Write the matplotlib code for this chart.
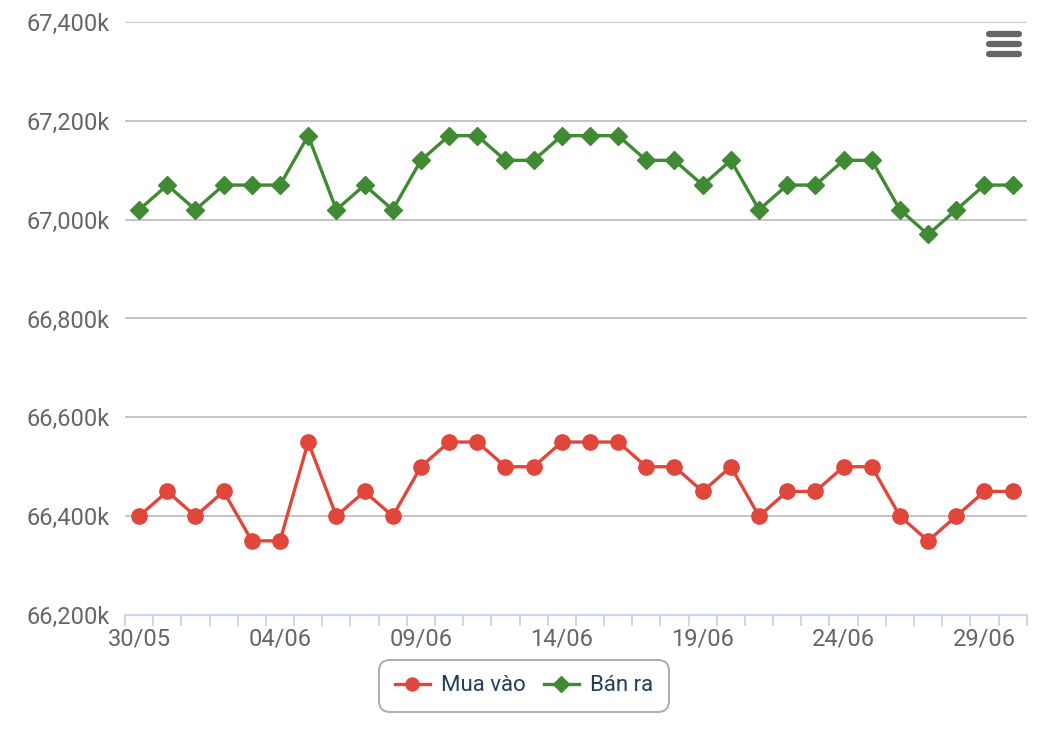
import matplotlib.pyplot as plt
from matplotlib.lines import Line2D
from matplotlib.ticker import FuncFormatter

# data (thousand units)
dates = ["30/05", "31/05", "01/06", "02/06", "03/06", "04/06", "05/06", "06/06",
         "07/06", "08/06", "09/06", "10/06", "11/06", "12/06", "13/06", "14/06",
         "15/06", "16/06", "17/06", "18/06", "19/06", "20/06", "21/06", "22/06",
         "23/06", "24/06", "25/06", "26/06", "27/06", "28/06", "29/06", "30/06"]
mua_vao = [66400, 66450, 66400, 66450, 66350, 66350, 66550, 66400,
           66450, 66400, 66500, 66550, 66550, 66500, 66500, 66550,
           66550, 66550, 66500, 66500, 66450, 66500, 66400, 66450,
           66450, 66500, 66500, 66400, 66350, 66400, 66450, 66450]
ban_ra = [67020, 67070, 67020, 67070, 67070, 67070, 67170, 67020,
          67070, 67020, 67120, 67170, 67170, 67120, 67120, 67170,
          67170, 67170, 67120, 67120, 67070, 67120, 67020, 67070,
          67070, 67120, 67120, 67020, 66970, 67020, 67070, 67070]
yticks = [66200, 66400, 66600, 66800, 67000, 67200, 67400]

plt.rcParams['font.family'] = ['Roboto', 'DejaVu Sans']

fig = plt.figure(figsize=(10.48, 7.54), dpi=100)
ax = fig.add_axes([0.1193, 0.1844, 0.8604, 0.7864])

x = list(range(len(dates)))
ax.plot(x, mua_vao, color='#e0473a', lw=2.4, marker='o', markersize=11,
        label='Mua vào', zorder=3)
ax.plot(x, ban_ra, color='#3f8a32', lw=2.4, marker='D', markersize=9,
        label='Bán ra', zorder=3)

ax.set_ylim(66200, 67400)
ax.set_yticks(yticks)
ax.yaxis.set_major_formatter(FuncFormatter(lambda v, p: f"{v:,.0f}k"))
ax.grid(axis='y', color='#c4c4c4', lw=1.4)
ax.set_axisbelow(True)

ax.set_xlim(-0.5, len(dates) - 0.5)
ax.set_xticks(x[::5])
ax.set_xticklabels(dates[::5])
ax.set_xticks([i - 0.5 for i in range(len(dates) + 1)], minor=True)
ax.tick_params(axis='x', which='major', length=0, pad=9, labelsize=17, colors='#666666')
ax.tick_params(axis='x', which='minor', length=8, width=1.4, color='#ccd6eb')
ax.tick_params(axis='y', length=0, pad=11, labelsize=17, colors='#666666')

for s in ['left', 'right', 'top']:
    ax.spines[s].set_visible(False)
ax.spines['bottom'].set_color('#ccd6eb')
ax.spines['bottom'].set_linewidth(1.6)

leg = fig.legend(loc='center', bbox_to_anchor=(0.5, 0.0902), ncol=2, fontsize=16,
                 frameon=True, fancybox=True, edgecolor='#999999', handlelength=1.6,
                 columnspacing=0.8, handletextpad=0.5, borderpad=0.7, markerscale=0.85)
leg.get_frame().set_linewidth(1.4)
leg.get_frame().set_boxstyle('round', pad=0, rounding_size=0.5)
for t in leg.get_texts():
    t.set_color('#253c5a')

# menu icon
for yy in [34, 44, 54]:
    fig.add_artist(Line2D([989 / 1048, 1019 / 1048], [1 - yy / 754, 1 - yy / 754],
                          color='#666666', lw=4.5, solid_capstyle='round'))

fig.savefig('out.png', dpi=100)
